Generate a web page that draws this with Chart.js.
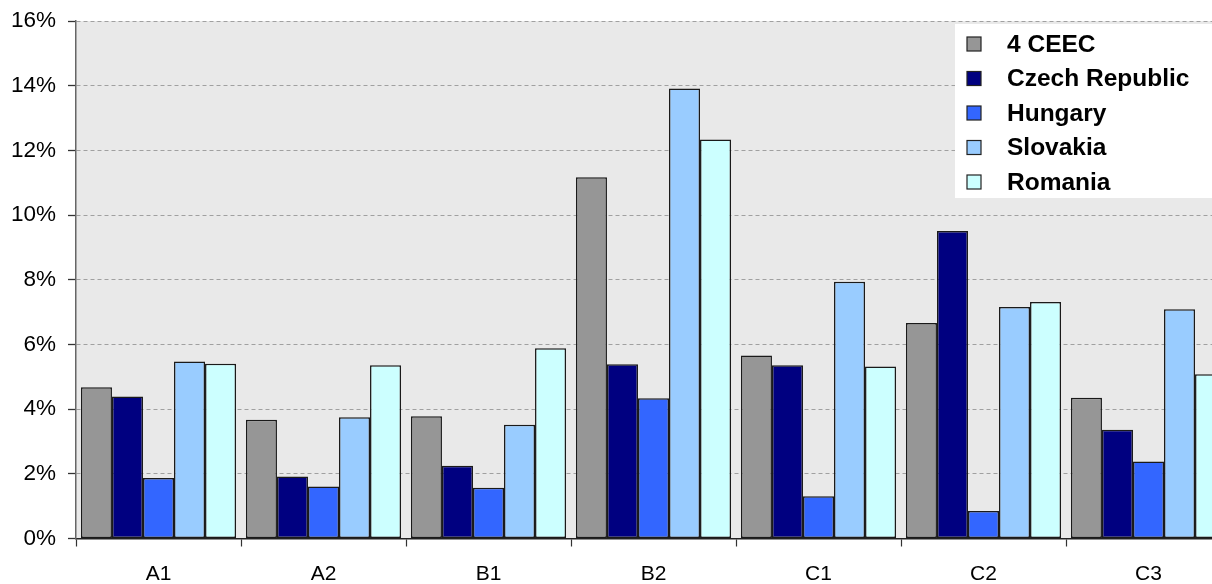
<!DOCTYPE html>
<html>
<head>
<meta charset="utf-8">
<script src="https://cdn.jsdelivr.net/npm/chart.js@4.4.1/dist/chart.umd.min.js"></script>
<style>
  html, body { margin: 0; padding: 0; background: #fff; overflow: hidden; }
  #wrap { position: relative; width: 1240px; height: 584px; }
</style>
</head>
<body>
<div id="wrap"><canvas id="chart"></canvas></div>
<script>
// categories and series (values in %)
const categories = ['A1', 'A2', 'B1', 'B2', 'C1', 'C2', 'C3'];
const ceec4   = [4.68, 3.67, 3.78, 11.17, 5.66, 6.66, 4.35];
const czech   = [4.39, 1.92, 2.25, 5.39, 5.36, 9.51, 3.36];
const hungary = [1.87, 1.61, 1.57, 4.34, 1.31, 0.85, 2.38];
const slovakia = [5.47, 3.75, 3.52, 13.91, 7.94, 7.16, 7.09];
const romania = [5.40, 5.36, 5.88, 12.34, 5.32, 7.31, 5.08];
const seriesNames = ['4 CEEC', 'Czech Republic', 'Hungary', 'Slovakia', 'Romania'];
const seriesColors = ['#969696', '#000080', '#3366ff', '#99ccff', '#ccffff'];

const FONT = "'Liberation Sans', Arial, sans-serif";

const makeSet = (i, values) => ({
    label: seriesNames[i], data: values, backgroundColor: seriesColors[i],
    borderColor: '#1a1a1a', borderWidth: 1.5, borderSkipped: false,
    barPercentage: 1.0, categoryPercentage: 0.94
});

// grey plot background
const plotBg = {
    id: 'plotBg',
    beforeDraw(chart) {
        const { ctx, chartArea: a } = chart;
        ctx.save();
        ctx.fillStyle = '#e9e9e9';
        ctx.fillRect(a.left, a.top, a.right - a.left, a.bottom - a.top);
        ctx.restore();
    }
};

// legend box drawn inside the plot, top right
const boxLegend = {
    id: 'boxLegend',
    afterDraw(chart) {
        const { ctx } = chart;
        const x0 = 955, y0 = 24, w = 300, h = 174;
        ctx.save();
        ctx.fillStyle = '#ffffff';
        ctx.fillRect(x0, y0, w, h);
        ctx.font = 'bold 24.5px ' + FONT;
        ctx.textBaseline = 'middle';
        chart.data.datasets.forEach((ds, i) => {
            const cy = 44 + i * 34.5;
            ctx.fillStyle = ds.backgroundColor;
            ctx.fillRect(967, cy - 7, 14, 14);
            ctx.strokeStyle = '#222';
            ctx.lineWidth = 1.2;
            ctx.strokeRect(967, cy - 7, 14, 14);
            ctx.fillStyle = '#000';
            ctx.fillText(ds.label, 1007, cy + 1);
        });
        ctx.restore();
    }
};

new Chart(document.getElementById('chart'), {
    type: 'bar',
    data: {
        labels: categories,
        datasets: [makeSet(0, ceec4), makeSet(1, czech), makeSet(2, hungary), makeSet(3, slovakia), makeSet(4, romania)]
    },
    options: {
        responsive: true,
        maintainAspectRatio: false,
        animation: false,
        layout: { padding: { top: 21, right: 9, left: 0, bottom: 0 } },
        plugins: { legend: { display: false }, tooltip: { enabled: false } },
        scales: {
            x: {
                grid: { drawOnChartArea: false, drawTicks: true, tickLength: 8, color: '#333', tickWidth: 1.2 },
                border: { color: '#222', width: 1.5 },
                ticks: { color: '#000', font: { family: FONT, size: 21 }, padding: 15 },
                afterFit(scale) { scale.height = 45.5; }
            },
            y: {
                min: 0, max: 16,
                ticks: { stepSize: 2, callback: v => v + '%', color: '#000', font: { family: FONT, size: 22.5 }, padding: 12 },
                grid: { color: '#a0a0a0', lineWidth: 1, tickLength: 8, tickColor: '#333', tickWidth: 1.3, tickBorderDash: [] },
                border: { color: '#666', width: 1.5, dash: [4, 3] },
                afterFit(scale) { scale.width = 76; scale.paddingTop = 0; scale.paddingBottom = 0; }
            }
        }
    },
    plugins: [plotBg, boxLegend]
});
</script>
</body>
</html>
